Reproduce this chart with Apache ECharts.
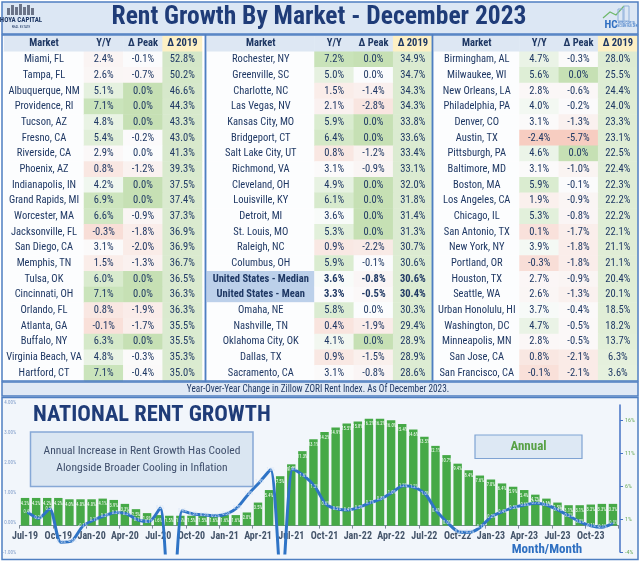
<!DOCTYPE html>
<html>
<head>
<meta charset="utf-8">
<script src="https://cdn.jsdelivr.net/npm/echarts@6.0.0/dist/echarts.min.js"></script>
<style>html,body{margin:0;padding:0;background:#fff;}#main{width:640px;height:562px;}</style>
</head>
<body>
<div id="main"></div>
<script>
// ---------------- DATA ----------------
const tableHeaders = ['Market', 'Y/Y', 'Δ Peak', 'Δ 2019'];

const marketsA = ['Miami, FL','Tampa, FL','Albuquerque, NM','Providence, RI','Tucson, AZ','Fresno, CA','Riverside, CA','Phoenix, AZ','Indianapolis, IN','Grand Rapids, MI','Worcester, MA','Jacksonville, FL','San Diego, CA','Memphis, TN','Tulsa, OK','Cincinnati, OH','Orlando, FL','Atlanta, GA','Buffalo, NY','Virginia Beach, VA','Hartford, CT'];
const yoyA   = [2.4, 2.6, 5.1, 7.1, 4.8, 5.4, 2.9, 0.8, 4.2, 6.9, 6.6, -0.3, 3.1, 1.5, 6.0, 7.1, 0.8, -0.1, 6.3, 4.8, 7.1];
const peakA  = [-0.1, -0.7, 0.0, 0.0, 0.0, -0.2, -0.04, -1.2, 0.0, 0.0, -0.9, -1.8, -2.0, -1.3, 0.0, 0.0, -1.9, -1.7, 0.0, -0.3, -0.4];
const since2019A = [52.8, 50.2, 46.6, 44.3, 43.3, 43.0, 41.3, 39.3, 37.5, 37.4, 37.3, 36.9, 36.9, 36.7, 36.5, 36.3, 36.3, 35.5, 35.5, 35.3, 35.0];

const marketsB = ['Rochester, NY','Greenville, SC','Charlotte, NC','Las Vegas, NV','Kansas City, MO','Bridgeport, CT','Salt Lake City, UT','Richmond, VA','Cleveland, OH','Louisville, KY','Detroit, MI','St. Louis, MO','Raleigh, NC','Columbus, OH','United States - Median','United States - Mean','Omaha, NE','Nashville, TN','Oklahoma City, OK','Dallas, TX','Sacramento, CA'];
const yoyB   = [7.2, 5.0, 1.5, 2.1, 5.9, 6.4, 0.8, 3.1, 4.9, 6.1, 3.6, 5.3, 0.9, 5.9, 3.6, 3.3, 5.8, 0.4, 4.1, 0.9, 3.1];
const peakB  = [0.0, -0.04, -1.4, -2.8, 0.0, 0.0, -1.2, -0.9, 0.0, 0.0, 0.0, 0.0, -2.2, -0.1, -0.8, -0.5, -0.04, -1.9, 0.0, -1.5, -0.8];
const since2019B = [34.9, 34.7, 34.3, 34.3, 33.8, 33.6, 33.4, 33.1, 32.0, 31.8, 31.4, 31.3, 30.7, 30.6, 30.6, 30.4, 30.3, 29.4, 28.9, 28.9, 28.6];

const marketsC = ['Birmingham, AL','Milwaukee, WI','New Orleans, LA','Philadelphia, PA','Denver, CO','Austin, TX','Pittsburgh, PA','Baltimore, MD','Boston, MA','Los Angeles, CA','Chicago, IL','San Antonio, TX','New York, NY','Portland, OR','Houston, TX','Seattle, WA','Urban Honolulu, HI','Washington, DC','Minneapolis, MN','San Jose, CA','San Francisco, CA'];
const yoyC   = [4.7, 5.6, 2.8, 4.0, 3.1, -2.4, 4.6, 3.1, 5.9, 1.9, 5.3, 0.1, 3.9, -0.3, 2.7, 2.6, 3.7, 4.7, 2.8, 0.8, -0.1];
const peakC  = [-0.3, 0.0, -0.6, -0.2, -1.3, -5.7, 0.0, -1.0, -0.1, -0.9, -0.8, -1.7, -1.8, -1.8, -0.9, -1.3, -0.4, -0.5, -0.5, -2.1, -2.1];
const since2019C = [28.0, 25.5, 24.4, 24.0, 23.3, 23.1, 22.5, 22.4, 22.3, 22.2, 22.2, 22.1, 21.1, 21.1, 20.4, 20.1, 18.5, 18.2, 13.7, 6.3, 3.6];

const months = ['Jul-19','Aug-19','Sep-19','Oct-19','Nov-19','Dec-19','Jan-20','Feb-20','Mar-20','Apr-20','May-20','Jun-20','Jul-20','Aug-20','Sep-20','Oct-20','Nov-20','Dec-20','Jan-21','Feb-21','Mar-21','Apr-21','May-21','Jun-21','Jul-21','Aug-21','Sep-21','Oct-21','Nov-21','Dec-21','Jan-22','Feb-22','Mar-22','Apr-22','May-22','Jun-22','Jul-22','Aug-22','Sep-22','Oct-22','Nov-22','Dec-22','Jan-23','Feb-23','Mar-23','Apr-23','May-23','Jun-23','Jul-23','Aug-23','Sep-23','Oct-23','Nov-23','Dec-23'];
// Annual (Y/Y) rent growth, % (bars, right axis)
const annualGrowth = [4.2, 4.2, 4.2, 4.2, 4.0, 4.0, 4.0, 4.1, 3.9, 3.3, 2.5, 1.9, 1.6, 1.5, 1.5, 1.5, 1.5, 1.6, 1.6, 1.6, 2.0, 3.5, 5.4, 7.5, 9.3, 11.3, 13.1, 14.2, 14.9, 15.5, 15.8, 16.2, 16.2, 16.0, 15.4, 14.6, 13.5, 12.1, 10.7, 9.4, 8.4, 7.6, 7.0, 6.4, 5.9, 5.4, 4.7, 4.1, 3.5, 3.1, 3.1, 3.2, 3.3, 3.3];
// Month/Month rent growth, % (line, left axis)
const monthlyGrowth = [0.36, 0.16, 0.47, -0.64, -0.6, -0.1, 0.1, 0.25, 0.35, 0.3, 0.1, 0.05, 0.5, -4.0, 0.41, 0.3, 0.27, 0.24, 0.3, 0.52, 0.97, 1.36, 1.78, -2.2, 1.8, 1.58, 1.22, 0.63, 0.47, 0.43, 0.52, 0.67, 0.8, 1.02, 1.24, 1.19, 0.97, 0.41, 0.02, -0.29, -0.31, -0.14, 0.22, 0.38, 0.52, 0.6, 0.66, 0.6, 0.44, 0.24, 0.04, -0.09, -0.14, -0.01];

const leftAxisTicks = [-1, 0, 1, 2, 3, 4];
const rightAxisTicks = [-4, 1, 6, 11, 16];

// ---------------- STYLE ----------------
const NARROW = '"Liberation Sans Narrow", "Roboto Condensed", "DejaVu Sans Condensed", Roboto, sans-serif';
const NAVY = '#1f3864';
const BORDER = '#4f7fc1';

function hex2rgb(h){h=h.replace('#','');return [parseInt(h.substr(0,2),16),parseInt(h.substr(2,2),16),parseInt(h.substr(4,2),16)];}
function mix(a,b,t){t=Math.max(0,Math.min(1,t));const A=hex2rgb(a),B=hex2rgb(b);return 'rgb('+A.map((x,i)=>Math.round(x+(B[i]-x)*t)).join(',')+')';}
const allYoy = yoyA.concat(yoyB, yoyC), allPeak = peakA.concat(peakB, peakC), allSince = since2019A.concat(since2019B, since2019C);
const yoyMin = Math.min.apply(null, allYoy), yoyMax = Math.max.apply(null, allYoy);
const peakMin = Math.min.apply(null, allPeak);
const sinceMin = Math.min.apply(null, allSince), sinceMax = Math.max.apply(null, allSince);
const WHITE = '#fbfcfd', PINK = '#f7cdc1', GREEN = '#c9e3b9', PEAKGREEN = '#c6e0b4';
function yoyColor(v){const mid=3.4;return v<mid?mix(WHITE,PINK,(mid-v)/(mid-yoyMin)):mix(WHITE,GREEN,(v-mid)/(yoyMax-mid));}
function peakColor(v){return v>=0?PEAKGREEN:mix(WHITE,PINK,v/peakMin);}
function sinceColor(v){return mix('#e6f1de','#d4e7c8',(v-sinceMin)/(sinceMax-sinceMin));}
function fmt(v){return (Math.abs(v)<0.05?0:v).toFixed(1)+'%';}

const HDR_BG = '#dde7f3', HDR_YEL = '#fdf0c4', MKT_BG = '#fcfdfe', US_BG = '#bcd0ea';

const panels = [
  {markets: marketsA, yoy: yoyA, peak: peakA, since: since2019A, mkt: [4, 80], num: [84, 118]},
  {markets: marketsB, yoy: yoyB, peak: peakB, since: since2019B, mkt: [207, 107.5], num: [314.5, 118]},
  {markets: marketsC, yoy: yoyC, peak: peakC, since: since2019C, mkt: [434, 85.5], num: [519.5, 118]}
];

const grids = [
  {left: 19.5, right: 21.5, top: 405, bottom: 10},  // bars (annual)
  {left: 19.5, right: 21.5, top: 403, bottom: 9}    // line (month/month)
];
const xAxes = [
  {gridIndex: 0, type: 'category', data: months, position: 'bottom', offset: -26.4,
   axisLine: {onZero: false, lineStyle: {color: '#7b8796', width: 1}},
   axisTick: {show: true, interval: 2, length: 3, lineStyle: {color: '#7b8796'}},
   axisLabel: {interval: 2, margin: 6, fontSize: 10, fontFamily: NARROW, fontWeight: 'bold', color: '#44546a'}},
  {gridIndex: 1, type: 'category', data: months, show: false}
];
const yAxes = [
  {gridIndex: 0, type: 'value', position: 'right', offset: 1.5, min: -4, max: 18.3, interval: 5,
   axisLine: {show: true, lineStyle: {color: '#4472c4', width: 1.5}},
   axisTick: {show: true, length: 3, lineStyle: {color: '#4472c4'}},
   splitLine: {show: false},
   axisLabel: {showMaxLabel: false, margin: 5, fontSize: 6, color: '#6aaa5a', fontFamily: NARROW, formatter: v => rightAxisTicks.indexOf(v) >= 0 ? v + '%' : ''}},
  {gridIndex: 1, type: 'value', position: 'left', min: -1, max: 4, interval: 1,
   axisLine: {show: false}, axisTick: {show: false}, splitLine: {show: false},
   axisLabel: {margin: 6, fontSize: 5, color: '#7d9bc9', fontFamily: NARROW, formatter: v => leftAxisTicks.indexOf(v) >= 0 ? v.toFixed(2) + '%' : ''}}
];

const series = [
  {type: 'bar', xAxisIndex: 0, yAxisIndex: 0, data: annualGrowth, barCategoryGap: '24%', z: 3,
   itemStyle: {color: '#46a947'},
   label: {show: true, position: 'insideTop', distance: 3, fontSize: 4.5, color: '#ffffff', fontFamily: NARROW, formatter: p => p.value.toFixed(1) + '%'}},
  {type: 'line', xAxisIndex: 1, yAxisIndex: 1, data: monthlyGrowth, smooth: 0.25, clip: true, z: 5,
   symbol: 'circle', symbolSize: 1, lineStyle: {color: '#2f74c6', width: 3}, itemStyle: {color: '#2f74c6'},
   label: {show: true, position: 'inside', fontSize: 4.5, color: '#dbe7f7', fontFamily: NARROW, formatter: p => p.value < -0.95 ? '' : p.value.toFixed(1) + '%'}}
];

const rowCats = [];
for (let i = 0; i <= marketsA.length; i++) rowCats.push(i);

panels.forEach((p, k) => {
  const gm = grids.length, gn = gm + 1;
  grids.push({left: p.mkt[0], width: p.mkt[1], top: 36, height: 345});
  grids.push({left: p.num[0], width: p.num[1], top: 36, height: 345});
  xAxes.push({gridIndex: gm, type: 'category', data: [0], show: false});
  xAxes.push({gridIndex: gn, type: 'category', data: [0, 1, 2], show: false});
  yAxes.push({gridIndex: gm, type: 'category', data: rowCats, inverse: true, show: false});
  yAxes.push({gridIndex: gn, type: 'category', data: rowCats, inverse: true, show: false});
  const mData = [{value: [0, 0, 0], name: tableHeaders[0], itemStyle: {color: HDR_BG}, label: {fontWeight: 'bold'}}];
  const nData = [];
  for (let c = 0; c < 3; c++) nData.push({value: [c, 0, 0], name: tableHeaders[c + 1], itemStyle: {color: c === 2 ? HDR_YEL : HDR_BG}, label: {fontWeight: 'bold'}});
  p.markets.forEach((m, i) => {
    const us = m.indexOf('United States') === 0;
    mData.push({value: [0, i + 1, 0], name: m, itemStyle: {color: us ? US_BG : MKT_BG}, label: us ? {fontWeight: 'bold'} : {}});
    const vals = [p.yoy[i], p.peak[i], p.since[i]];
    const cols = [yoyColor(vals[0]), peakColor(vals[1]), sinceColor(vals[2])];
    vals.forEach((v, c) => nData.push({value: [c, i + 1, v], name: fmt(v), itemStyle: {color: cols[c]}, label: us ? {fontWeight: 'bold'} : {}}));
  });
  const lbl = {show: true, formatter: '{b}', fontSize: 10.5, fontFamily: NARROW, color: NAVY};
  series.push({type: 'heatmap', xAxisIndex: xAxes.length - 2, yAxisIndex: yAxes.length - 2, data: mData, label: lbl, silent: true, emphasis: {disabled: true}});
  series.push({type: 'heatmap', xAxisIndex: xAxes.length - 1, yAxisIndex: yAxes.length - 1, data: nData, label: lbl, silent: true, emphasis: {disabled: true}});
});

// ---------------- DECORATION ----------------
const graphic = [
  // title bar
  {type: 'rect', z: 0, shape: {x: 2, y: 2, width: 636, height: 32}, style: {fill: '#dce7f4', stroke: BORDER, lineWidth: 1.5}},
  {type: 'text', z: 10, x: 319, y: 18, style: {text: 'Rent Growth By Market - December 2023', font: 'bold 25.5px ' + NARROW, fill: '#1f3c78', align: 'center', verticalAlign: 'middle'}},
  // left logo
  {type: 'group', z: 10, children: [
    {type: 'rect', shape: {x: 7, y: 8, width: 3, height: 7}, style: {fill: '#6b7488'}},
    {type: 'rect', shape: {x: 11, y: 5, width: 3, height: 10}, style: {fill: '#6b7488'}},
    {type: 'rect', shape: {x: 15, y: 7, width: 3, height: 8}, style: {fill: '#6b7488'}},
    {type: 'rect', shape: {x: 19, y: 4, width: 3, height: 11}, style: {fill: '#6b7488'}},
    {type: 'rect', shape: {x: 23, y: 7, width: 3, height: 8}, style: {fill: '#6b7488'}},
    {type: 'rect', shape: {x: 27, y: 5, width: 3, height: 10}, style: {fill: '#6b7488'}},
    {type: 'rect', shape: {x: 31, y: 8, width: 3, height: 7}, style: {fill: '#6b7488'}},
    {type: 'text', x: 21, y: 20, style: {text: 'HOYA CAPITAL', font: 'bold 7px ' + NARROW, fill: NAVY, align: 'center', verticalAlign: 'middle'}},
    {type: 'text', x: 21, y: 27, style: {text: 'REAL ESTATE', font: '3.5px ' + NARROW, fill: NAVY, align: 'center', verticalAlign: 'middle'}}
  ]},
  // right logo
  {type: 'group', z: 10, children: [
    {type: 'polyline', shape: {points: [[603, 18], [610, 12], [616, 15], [624, 6]]}, style: {stroke: '#6fb86a', lineWidth: 1.2, fill: null}},
    {type: 'rect', shape: {x: 618, y: 9, width: 5, height: 12}, style: {fill: 'none', stroke: '#8fb0da', lineWidth: 1}},
    {type: 'rect', shape: {x: 624, y: 6, width: 5, height: 15}, style: {fill: 'none', stroke: '#8fb0da', lineWidth: 1}},
    {type: 'text', x: 611, y: 25, style: {text: 'HC', font: 'bold 11px ' + NARROW, fill: '#2f6fc1', align: 'center', verticalAlign: 'middle'}},
    {type: 'text', x: 627, y: 25, style: {text: 'HOYA CAPITAL\nINCOME BUILDER', font: '3px ' + NARROW, fill: '#2f6fc1', align: 'center', verticalAlign: 'middle'}}
  ]},
  // table panel borders
  {type: 'rect', z: 20, shape: {x: 2, y: 35, width: 203.5, height: 346}, style: {fill: null, stroke: BORDER, lineWidth: 1.5}},
  {type: 'rect', z: 20, shape: {x: 205.5, y: 35, width: 227, height: 346}, style: {fill: null, stroke: BORDER, lineWidth: 1.5}},
  {type: 'rect', z: 20, shape: {x: 432.5, y: 35, width: 205.5, height: 346}, style: {fill: null, stroke: BORDER, lineWidth: 1.5}},
  // footnote
  {type: 'rect', z: 0, shape: {x: 2, y: 382, width: 636, height: 14}, style: {fill: '#e0e9f5', stroke: BORDER, lineWidth: 1.5}},
  {type: 'text', z: 10, x: 318, y: 389.5, scaleX: 0.88, style: {text: 'Year-Over-Year Change in Zillow ZORI Rent Index. As Of December 2023.', font: '10.5px ' + NARROW, fill: NAVY, align: 'center', verticalAlign: 'middle'}},
  // chart panel
  {type: 'rect', z: 0, shape: {x: 2, y: 397.5, width: 636, height: 162}, style: {fill: '#f2f6fb', stroke: BORDER, lineWidth: 1.5}},
  {type: 'text', z: 10, x: 33, y: 415, style: {text: 'NATIONAL RENT GROWTH', font: 'bold 22.5px ' + NARROW, fill: '#1f3c78', align: 'left', verticalAlign: 'middle'}},
  {type: 'rect', z: 10, shape: {x: 30.5, y: 432, width: 222.5, height: 54.5}, style: {fill: '#dae6f2', stroke: '#86a8d6', lineWidth: 1.5}},
  {type: 'text', z: 11, x: 142, y: 451, style: {text: 'Annual Increase in Rent Growth Has Cooled', font: '11.5px ' + NARROW, fill: '#3f4f6c', align: 'center', verticalAlign: 'middle'}},
  {type: 'text', z: 11, x: 142, y: 468.5, style: {text: 'Alongside Broader Cooling in Inflation', font: '11.5px ' + NARROW, fill: '#3f4f6c', align: 'center', verticalAlign: 'middle'}},
  {type: 'rect', z: 10, shape: {x: 475, y: 435, width: 107, height: 23.5}, style: {fill: '#dde8f4', stroke: '#7fa3d3', lineWidth: 1.2}},
  {type: 'text', z: 11, x: 528.5, y: 446.5, style: {text: 'Annual', font: 'bold 13px ' + NARROW, fill: '#58a146', align: 'center', verticalAlign: 'middle'}},
  {type: 'text', z: 11, x: 547, y: 550, style: {text: 'Month/Month', font: 'bold 13px ' + NARROW, fill: '#2e6fc1', align: 'center', verticalAlign: 'middle'}}
];

const chart = echarts.init(document.getElementById('main'), null, {renderer: 'canvas', width: 640, height: 562});
chart.setOption({
  animation: false,
  backgroundColor: '#ffffff',
  grid: grids,
  xAxis: xAxes,
  yAxis: yAxes,
  series: series,
  graphic: graphic
});
</script>
</body>
</html>
